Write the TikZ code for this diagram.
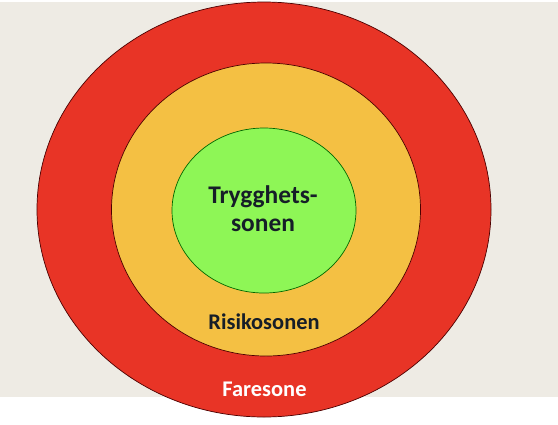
\documentclass[tikz,border=0pt]{standalone}
\usepackage{fontspec}
\setmainfont{Carlito}
\usetikzlibrary{shapes.geometric}
\definecolor{bakgrunn}{RGB}{238,235,228}
\definecolor{farerod}{RGB}{232,52,38}
\definecolor{risikogul}{RGB}{244,192,67}
\definecolor{tryggrønn}{RGB}{142,246,86}
\definecolor{tekstmork}{RGB}{22,30,40}
\begin{document}
\begin{tikzpicture}[x=1bp, y=-1bp,
        zone/.style = {ellipse, draw = black!70!red, line width = 0.7bp, inner sep = 0pt},
        soneTekst/.style = {font = \bfseries, align = center}]
        \useasboundingbox (0,0) rectangle (558,424);
        \fill[color = bakgrunn] (0,2) rectangle (558,397);
        \node[zone, fill = farerod, minimum width = 454bp, minimum height = 415bp] (fare) at (264,209.5) {};
        \node[zone, fill = risikogul, minimum width = 309bp, minimum height = 293bp] (risiko) at (266,209.5) {};
        \node[zone, fill = tryggrønn, draw = black!60!green, minimum width = 184bp, minimum height = 165bp] (trygg) at (264,210.5) {};
        \node[soneTekst, text = tekstmork, font = \bfseries\fontsize{25.5}{28}\selectfont] (tryggTekst) at (263,209) {Trygghets-\\sonen};
        \node[soneTekst, text = tekstmork, font = \bfseries\fontsize{22.5}{26}\selectfont] (risikoTekst) at (264,322) {Risikosonen};
        \node[soneTekst, text = white, font = \bfseries\fontsize{22.5}{26}\selectfont] (fareTekst) at (264.5,389) {Faresone};
    \end{tikzpicture}
\end{document}
